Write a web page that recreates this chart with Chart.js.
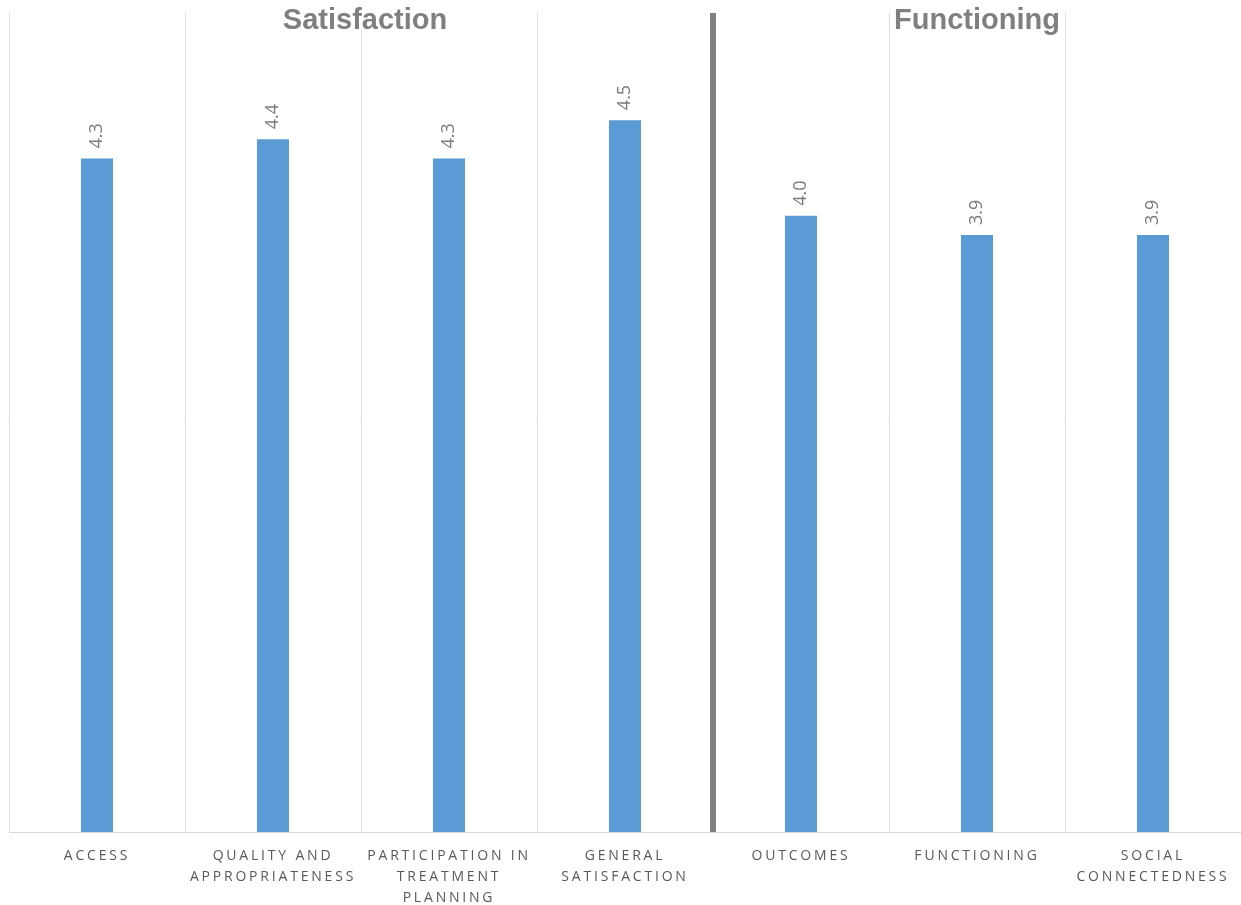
<!DOCTYPE html>
<html>
<head>
<meta charset="utf-8">
<title>Satisfaction and Functioning Scores</title>
<script src="https://cdn.jsdelivr.net/npm/chart.js@4/dist/chart.umd.min.js"></script>
<style>
  html, body { margin: 0; padding: 0; background: #ffffff; }
  #wrap { width: 1241px; height: 905px; }
</style>
</head>
<body>
<div id="wrap"><canvas id="chart" width="1241" height="905"></canvas></div>
<script>
// Domain categories (multi-line axis labels)
const categories = [
  ['ACCESS'],
  ['QUALITY AND', 'APPROPRIATENESS'],
  ['PARTICIPATION IN', 'TREATMENT', 'PLANNING'],
  ['GENERAL', 'SATISFACTION'],
  ['OUTCOMES'],
  ['FUNCTIONING'],
  ['SOCIAL', 'CONNECTEDNESS']
];

// Mean score per domain
const scores = [4.3, 4.4, 4.3, 4.5, 4.0, 3.9, 3.9];

// Section headings and the category index ranges they span
const groupTitles = ['Satisfaction', 'Functioning'];
const groupRanges = [[0, 3], [4, 6]];

// Index of the category that starts the second section
const sectionBreak = 4;

const BAR_BLUE = '#5b9bd5';
const GRID_GREY = '#d9d9d9';
const DIVIDER_GREY = '#7f7f7f';

// Wide-tracked axis labels; reset before datasets so other text is normal
const letterSpacingPlugin = {
  id: 'letterSpacing',
  beforeDraw(chart) { chart.ctx.letterSpacing = '2.8px'; },
  beforeDatasetsDraw(chart) { chart.ctx.letterSpacing = '0px'; }
};

// Rotated value labels above each bar
const valueLabelPlugin = {
  id: 'valueLabels',
  afterDatasetsDraw(chart) {
    const ctx = chart.ctx;
    const meta = chart.getDatasetMeta(0);
    ctx.save();
    ctx.letterSpacing = '0px';
    ctx.font = '18px "Open Sans", sans-serif';
    ctx.fillStyle = '#7a7a7a';
    ctx.textAlign = 'left';
    ctx.textBaseline = 'middle';
    meta.data.forEach((bar, i) => {
      ctx.save();
      ctx.translate(bar.x, bar.y - 10);
      ctx.rotate(-Math.PI / 2);
      ctx.fillText(scores[i].toFixed(1), 0, 0);
      ctx.restore();
    });
    ctx.restore();
  }
};

// Section headings centred over their categories, on a white backing
const sectionTitlePlugin = {
  id: 'sectionTitles',
  afterDraw(chart) {
    const ctx = chart.ctx;
    const x = chart.scales.x;
    const top = chart.chartArea.top;
    ctx.save();
    ctx.letterSpacing = '0px';
    ctx.font = 'bold 29px "Liberation Sans", Arial, sans-serif';
    ctx.textAlign = 'center';
    ctx.textBaseline = 'middle';
    groupTitles.forEach((t, g) => {
      const [a, b] = groupRanges[g];
      const cx = (x.getPixelForValue(a) + x.getPixelForValue(b)) / 2 + (g === 0 ? 4 : 0);
      const cy = top + 8;
      const w = ctx.measureText(t).width;
      ctx.fillStyle = '#ffffff';
      ctx.fillRect(cx - w / 2 - 3, 0, w + 6, cy + 9);
      ctx.fillStyle = DIVIDER_GREY;
      ctx.fillText(t, cx, cy);
    });
    ctx.restore();
  }
};

new Chart(document.getElementById('chart'), {
  type: 'bar',
  data: {
    labels: categories,
    datasets: [{
      data: scores,
      backgroundColor: BAR_BLUE,
      borderWidth: 0,
      categoryPercentage: 1,
      barPercentage: 0.182
    }]
  },
  options: {
    responsive: false,
    devicePixelRatio: 1,
    animation: false,
    layout: { padding: { top: 13, left: 9, right: 0, bottom: 0 } },
    plugins: {
      legend: { display: false },
      tooltip: { enabled: false },
      title: { display: false }
    },
    scales: {
      x: {
        offset: true,
        grid: {
          offset: true,
          drawTicks: false,
          color: (c) => c.index === sectionBreak ? DIVIDER_GREY : GRID_GREY,
          lineWidth: (c) => c.index === sectionBreak ? 6 : 1
        },
        border: { color: GRID_GREY, width: 1 },
        ticks: {
          autoSkip: false,
          maxRotation: 0,
          minRotation: 0,
          padding: 14,
          color: '#595959',
          font: { family: '"Open Sans", sans-serif', size: 14, lineHeight: 1.5 }
        },
        afterFit(scale) { scale.height = 73; }
      },
      y: {
        display: false,
        min: 0.78,
        max: 5.06
      }
    }
  },
  plugins: [letterSpacingPlugin, valueLabelPlugin, sectionTitlePlugin]
});
</script>
</body>
</html>
